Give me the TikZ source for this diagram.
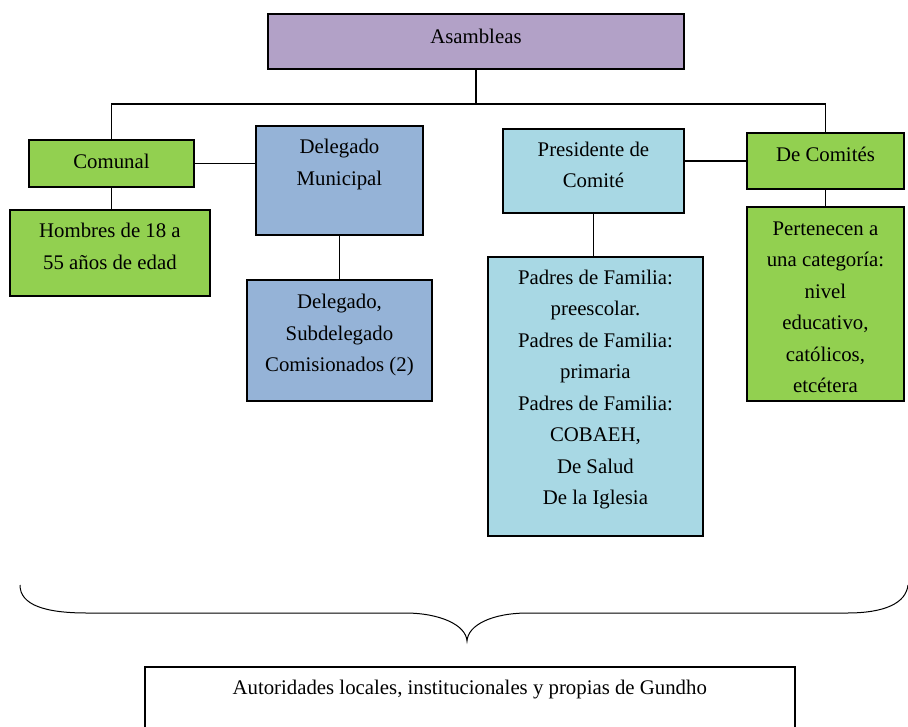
\documentclass[tikz,border=0pt]{standalone}
\usepackage{fontspec}
\setmainfont{Liberation Serif}
\definecolor{lila}{HTML}{B2A1C7}
\definecolor{verde}{HTML}{92D050}
\definecolor{azul}{HTML}{95B3D7}
\definecolor{celeste}{HTML}{A8D8E4}
\tikzset{
  mw/.style={minimum width=#1},mh/.style={minimum height=#1},
  td/.style={text depth=#1},
  caja/.style={draw=black, line width=1.9pt, anchor=north west, align=center, inner sep=0pt,
    td=12pt, font=\fontsize{20.8pt}{31.5pt}\selectfont},
  linea/.style={line width=1.5pt},
}
\begin{document}
\begin{tikzpicture}[x=1pt,y=-1pt]
\useasboundingbox (0,0) rectangle (908,726);

\node[caja, fill=lila, mw=416pt, mh=55pt, td=11pt] at (267,13) (asam) {Asambleas};

\node[caja, fill=verde, mw=165pt, mh=47pt, td=5pt] at (28,139) (comunal) {Comunal};
\node[caja, fill=verde, mw=200pt, mh=86pt, td=13pt] at (9,209) (hombres) {Hombres de 18 a\\55 años de edad};

\node[caja, fill=azul, mw=167pt, mh=109pt, td=36pt] at (255,125) (delmun) {Delegado\\Municipal};
\node[caja, fill=azul, mw=185pt, mh=121pt, td=15pt] at (246,279) (subdel) {Delegado,\\Subdelegado\\Comisionados (2)};

\node[caja, fill=celeste, mw=181pt, mh=84pt] at (502,128) (pres) {Presidente de\\Comité};
\node[caja, fill=celeste, mw=215pt, mh=279pt, td=18pt] at (487,256) (padres) {Padres de Familia:\\preescolar.\\Padres de Familia:\\primaria\\Padres de Familia:\\COBAEH,\\De Salud\\De la Iglesia};

\node[caja, fill=verde, mw=157pt, mh=56pt, td=14pt] at (746,132) (decom) {De Comités};
\node[caja, fill=verde, mw=157pt, mh=194pt, text height=177.5pt, td=0pt] at (746,206) (perten) {Pertenecen a\\una categoría:\\nivel\\educativo,\\católicos,\\etcétera};

\node[caja, line width=1.5pt, mw=650pt, mh=80pt, td=38pt] at (144,666) (autor) {Autoridades locales, institucionales y propias de Gundho};

% conectores
\path (asam.south) ++(0,34) coordinate (barra);
\draw[linea] (asam.south) -- (barra);
\draw[linea] (comunal.north) |- (barra) -| (decom.north);
\draw[linea] (comunal.east) -- (comunal.east -| delmun.west);
\draw[linea] (comunal.south) -- (comunal.south |- hombres.north);
\draw[linea] (delmun.south) -- (subdel.north);
\draw[linea] (decom.west) -- (decom.west -| pres.east);
\draw[linea] (pres.south) -- (pres.south |- padres.north);
\draw[linea] (decom.south) -- (decom.south |- perten.north);

% llave
\draw[line width=1pt] (20,585) .. controls (20,605) and (45,613) .. (87,613) -- (405,613)
  .. controls (440,613) and (466,625) .. (467,641)
  .. controls (468,625) and (492,613) .. (528,613) -- (847,613)
  .. controls (885,613) and (906,603) .. (908,585);

\end{tikzpicture}
\end{document}
